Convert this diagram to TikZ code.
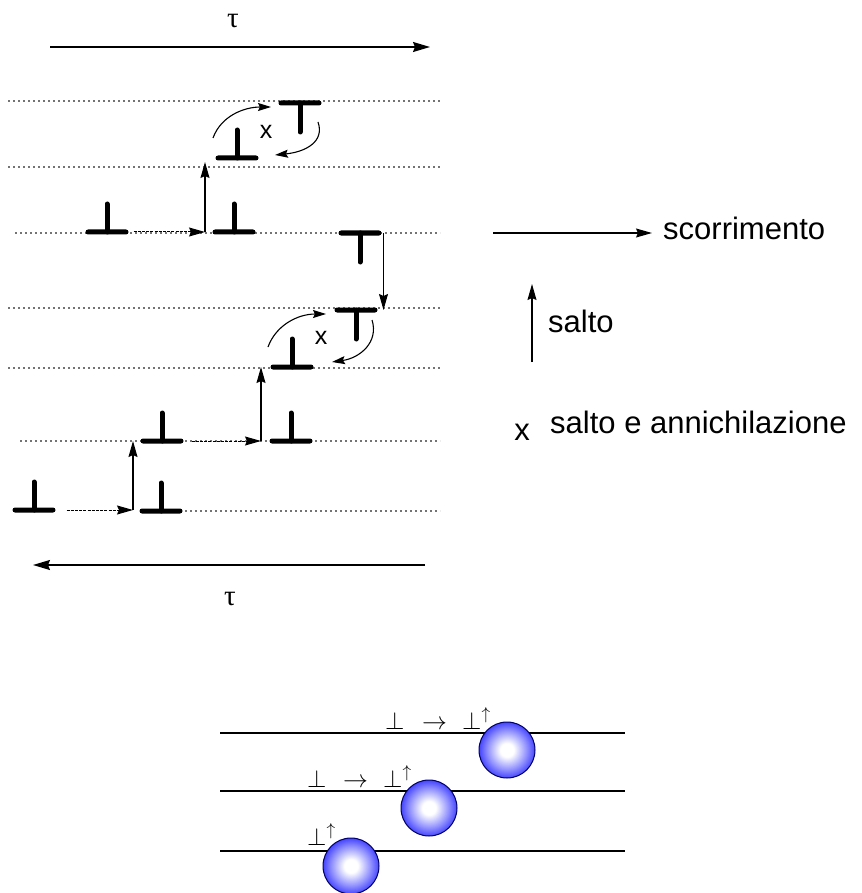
\documentclass[tikz,border=0pt]{standalone}
\usepackage{fontspec}
\setmainfont{Liberation Sans}
\newfontfamily\greekserif{Liberation Serif}
\usetikzlibrary{arrows.meta,calc}

\pgfdeclareradialshading{sphereshade}{\pgfpointorigin}{%
  color(0bp)=(white); color(6bp)=(white); color(18bp)=(blue!45!white);
  color(28bp)=(blue!85!white); color(35bp)=(blue); color(50bp)=(blue)}

\begin{document}
\begin{tikzpicture}[x=1pt,y=-1pt,
  bar/.style={fill=black, rounded corners=2.5pt, minimum width=43pt,
    minimum height=5pt, inner sep=0pt, outer sep=0pt},
  stem/.style={line width=5pt, line cap=round},
  glide/.style={line width=1.2pt, black!55, dash pattern=on 1.8pt off 3.2pt},
  tip/.style={-{Stealth[length=16pt,width=9pt,inset=2pt]}},
  slip/.style={tip, line width=1pt, dash pattern=on 3pt off 1.2pt},
  climb/.style={tip, line width=1.1pt},
  swap/.style={-{Stealth[length=13pt,width=8pt,inset=2pt]}, line width=1.1pt},
  legend/.style={inner sep=0pt, font=\fontsize{31}{34}\selectfont},
  cross/.style={inner sep=0pt, font=\fontsize{25}{27}\selectfont},
  taulab/.style={inner sep=0pt, font=\greekserif\fontsize{29}{31}\selectfont},
  sym/.style={inner sep=0pt, font=\fontsize{23}{25}\selectfont},
  plane/.style={line width=1.3pt},
  sphere/.style={shading=sphereshade}]

\useasboundingbox (0,0) rectangle (861,893);

% ---------- time axis (top) ----------
\coordinate (tA) at (50,47);
\coordinate (tB) at (430,47);
\draw[line width=1.4pt, -{Stealth[length=17pt,width=10pt,inset=2pt]}] (tA) -- (tB);
\node[taulab] (tauTop) at (233,21) {τ};

% ---------- glide planes ----------
\foreach \y/\xs in {101/8, 167/8, 233/15, 308/8, 368/8, 441/20}
  \draw[glide] (\xs,\y) -- (440,\y);
\draw[glide] (185,511) -- (440,511);

% ---------- dislocations ----------
% positive edge dislocations (stem upwards)
\foreach \n/\x/\y in {A/34/510, B/161/511, C/162/441, D/291/441,
                      E/292/367, H/107/232, I/234/232, J/237/158}{
  \node[bar] (\n) at (\x,\y) {};
  \draw[stem] (\n.center) -- ++(0,-28);
}
% negative edge dislocations (stem downwards)
\foreach \n/\x/\y in {F/356/310, G/360/233, K/300/103}{
  \node[bar] (\n) at (\x,\y) {};
  \draw[stem] (\n.center) -- ++(0,29);
}

% ---------- glide and climb steps ----------
\coordinate (p1) at (133,510);
\coordinate (p2) at (261,441);
\coordinate (p3) at (205,232);
\draw[slip] ($(A.east)+(11,0)$) -- (p1);
\draw[climb] (p1) -- (p1 |- C.center);
\draw[slip] ($(C.east)+(8,0)$) -- (p2);
\draw[climb] (p2) -- (p2 |- E.center);
\draw[slip] ($(H.east)+(5,0)$) -- (p3);
\draw[climb] (p3) -- ($(p3 |- J.center)+(0,4)$);
\coordinate (g1) at ($(G.east)+(2,0)$);
\draw[climb] (g1) -- (g1 |- F.center);

% ---------- climb and annihilation ----------
\coordinate (e1) at (268,347);
\coordinate (e2) at (326,314);
\coordinate (f1) at (372,320);
\coordinate (f2) at (332,362);
\draw[swap] (e1) .. controls (276,325) and (298,314) .. (e2);
\draw[swap] (f1) .. controls (379,342) and (360,358) .. (f2);
\node[cross] (xEF) at (321,338) {x};

\coordinate (j1) at (213,138);
\coordinate (j2) at (271,107);
\coordinate (k1) at (318,122);
\coordinate (k2) at (275,155);
\draw[swap] (j1) .. controls (221,116) and (244,107) .. (j2);
\draw[swap] (k1) .. controls (325,142) and (305,152) .. (k2);
\node[cross] (xJK) at (266,132) {x};

% ---------- time axis (bottom) ----------
\coordinate (bA) at (425,565);
\coordinate (bB) at (33,565);
\draw[line width=1.4pt, -{Stealth[length=17pt,width=10pt,inset=2pt]}] (bA) -- (bB);
\node[taulab] (tauBot) at (230,599) {τ};

% ---------- legend ----------
\coordinate (s1) at (493,233);
\coordinate (s2) at (652,233);
\draw[climb] (s1) -- (s2);
\node[legend, anchor=base west] (scorr) at (663,240) {scorrimento};

\coordinate (c1) at (532,362);
\coordinate (c2) at (532,284);
\draw[climb] (c1) -- (c2);
\node[legend, anchor=base west] (salto) at (548,332) {salto};

\node[legend, anchor=base] (xLeg) at (522,440) {x};
\node[legend, anchor=base west] (annih) at (550,433) {salto e annichilazione};

% ---------- slip planes with obstacles ----------
\coordinate (L1a) at (220,733); \coordinate (L1b) at (625,733);
\coordinate (L2a) at (220,791); \coordinate (L2b) at (625,791);
\coordinate (L3a) at (220,851); \coordinate (L3b) at (625,851);
\draw[plane] (L1a) -- (L1b);
\draw[plane] (L2a) -- (L2b);
\draw[plane] (L3a) -- (L3b);

\foreach \n/\x/\y in {S1/507/750, S2/429/808, S3/351/866}{
  \coordinate (\n) at (\x,\y);
  \shade[sphere] (\n) circle[radius=28pt];
  \draw[line width=1pt, blue!40!black] (\n) circle[radius=28pt];
}

\node[sym, anchor=base west] (u1) at (385,729) {$\perp$};
\node[sym, anchor=base west] (m1) at (422,729) {$\rightarrow$};
\node[sym, anchor=base west] (v1) at (462,729) {$\perp^{\uparrow}$};
\node[sym, anchor=base west] (u2) at (307,787) {$\perp$};
\node[sym, anchor=base west] (m2) at (343,787) {$\rightarrow$};
\node[sym, anchor=base west] (v2) at (383,787) {$\perp^{\uparrow}$};
\node[sym, anchor=base west] (v3) at (307,845) {$\perp^{\uparrow}$};

\end{tikzpicture}
\end{document}
